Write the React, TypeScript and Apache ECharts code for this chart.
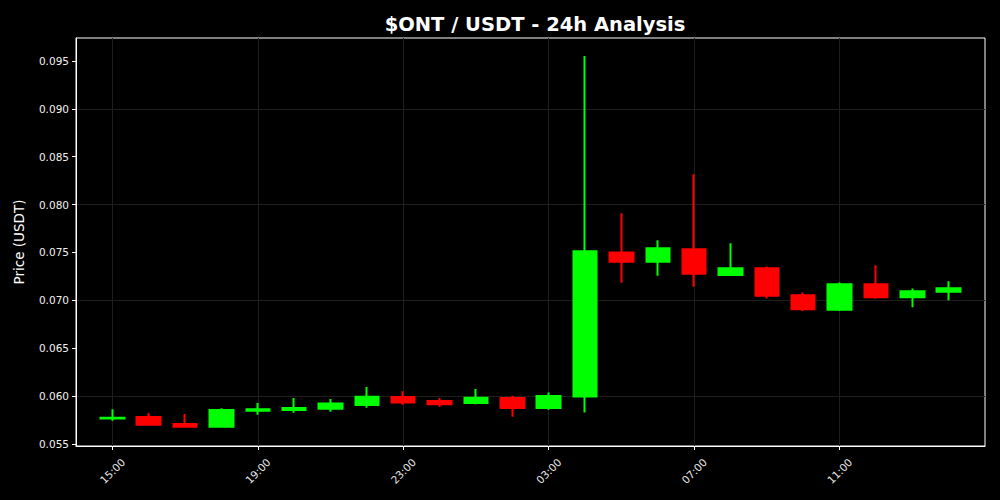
import React, { useEffect, useRef } from "react";
import * as echarts from "echarts";

const hours = [
  "15:00", "16:00", "17:00", "18:00", "19:00", "20:00", "21:00", "22:00",
  "23:00", "00:00", "01:00", "02:00", "03:00", "04:00", "05:00", "06:00",
  "07:00", "08:00", "09:00", "10:00", "11:00", "12:00", "13:00", "14:00",
];
const opens = [
  0.05765, 0.05781, 0.05708, 0.0568, 0.05847, 0.05854, 0.05867, 0.05906,
  0.0599, 0.05948, 0.05927, 0.05979, 0.05875, 0.05997, 0.075, 0.07402,
  0.07534, 0.07266, 0.07336, 0.07054, 0.06901, 0.07169, 0.07033, 0.07089,
];
const closes = [
  0.05775, 0.057, 0.0568, 0.05854, 0.05864, 0.05875, 0.05924, 0.05993,
  0.05934, 0.05916, 0.05982, 0.05875, 0.06, 0.07514, 0.07402, 0.07545,
  0.07277, 0.07336, 0.07047, 0.06908, 0.07169, 0.07033, 0.07096, 0.07127,
];
const highs = [
  0.05864, 0.05823, 0.05812, 0.05872, 0.05927, 0.05979, 0.05969, 0.06094,
  0.06052, 0.05979, 0.06073, 0.06003, 0.06039, 0.09552, 0.0791, 0.07628,
  0.08317, 0.07597, 0.07354, 0.07082, 0.07187, 0.07367, 0.07124, 0.072,
];
const lows = [
  0.05742, 0.0569, 0.0568, 0.0568, 0.05805, 0.05826, 0.05836, 0.05878,
  0.05909, 0.05888, 0.05915, 0.05784, 0.05857, 0.0583, 0.07183, 0.07256,
  0.07141, 0.07263, 0.0702, 0.0689, 0.0689, 0.07016, 0.06929, 0.07002,
];
const yTicks = [0.055, 0.06, 0.065, 0.07, 0.075, 0.08, 0.085, 0.09, 0.095];

export default function App() {
  const ref = useRef<HTMLDivElement>(null);
  useEffect(() => {
    const chart = echarts.init(ref.current!, undefined, { renderer: "svg" });
    const cats = ["", ...hours, ""];
    const data = [
      "-",
      ...hours.map((_, i) => [opens[i], closes[i], lows[i], highs[i]]),
      "-",
    ];
    const showIdx = (i: number) => i >= 1 && i <= hours.length && (i - 1) % 4 === 0;
    const font = "DejaVu Sans";
    const gridColor = "#1e1e1e";
    chart.setOption({
      animation: false,
      backgroundColor: "#000000",
      title: {
        text: "$ONT / USDT - 24h Analysis",
        left: 530,
        textAlign: "center",
        top: 9,
        textStyle: { color: "#ffffff", fontSize: 19.5, fontWeight: "bold", fontFamily: font },
      },
      grid: {
        left: 76,
        right: 15,
        top: 38,
        bottom: 54,
        show: true,
        borderColor: "#ffffff",
        borderWidth: 1,
        backgroundColor: "#000000",
      },
      xAxis: {
        type: "category",
        data: cats,
        boundaryGap: false,
        axisLine: { lineStyle: { color: "#ffffff", width: 1 } },
        axisTick: {
          interval: (i: number) => showIdx(i),
          length: 4,
          lineStyle: { color: "#ffffff" },
        },
        axisLabel: {
          interval: (i: number) => showIdx(i),
          rotate: 45,
          align: "center",
          verticalAlign: "middle",
          margin: 25,
          color: "#e8e8e8",
          fontSize: 10.5,
          fontFamily: font,
        },
        splitLine: {
          show: true,
          interval: (i: number) => showIdx(i),
          lineStyle: { color: gridColor, width: 1 },
        },
      },
      yAxis: {
        type: "value",
        min: 0.05479,
        max: 0.0974,
        name: "Price (USDT)",
        nameLocation: "middle",
        nameGap: 50,
        nameTextStyle: { color: "#ffffff", fontSize: 13.5, fontFamily: font },
        axisLine: { show: true, lineStyle: { color: "#ffffff" } },
        axisTick: { show: true, length: 4, customValues: yTicks, lineStyle: { color: "#ffffff" } },
        axisLabel: {
          customValues: yTicks,
          formatter: (v: number) => v.toFixed(3),
          color: "#f0f0f0",
          fontSize: 10.5,
          fontFamily: font,
          margin: 7,
        },
        splitLine: { show: false },
      },
      series: [
        {
          type: "candlestick",
          data,
          barWidth: 24,
          itemStyle: {
            color: "#00ff00",
            color0: "#ff0000",
            borderColor: "#00ff00",
            borderColor0: "#ff0000",
            borderWidth: 2,
          },
          markLine: {
            silent: true,
            symbol: "none",
            label: { show: false },
            lineStyle: { color: gridColor, type: "solid", width: 1 },
            data: yTicks.map((v) => ({ yAxis: v })),
            z: 0,
          },
        },
      ],
    });
    return () => chart.dispose();
  }, []);
  return (
    <div
      ref={ref}
      style={{ position: "fixed", left: 0, top: 0, width: 1000, height: 500 }}
    />
  );
}
